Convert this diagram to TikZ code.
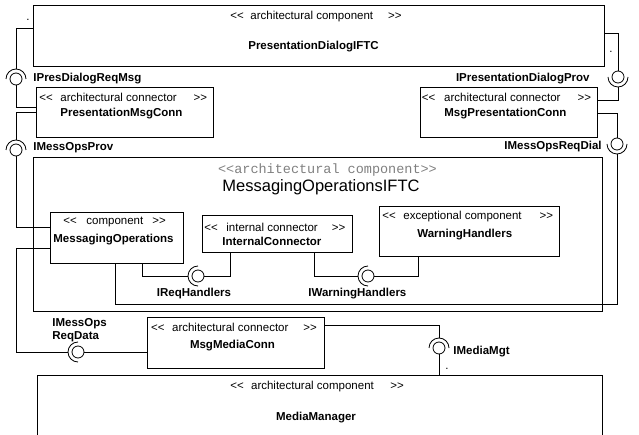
\documentclass[tikz,border=0pt]{standalone}
\usepackage{fontspec}
\setmainfont{Liberation Sans}
\newfontfamily\umlmono{Liberation Mono}
\newcommand{\stlt}{<\kern0pt<}
\newcommand{\stgt}{>\kern0pt>}
\tikzset{
  box/.style={draw, anchor=north west, inner sep=0},
  ball/.style={circle, draw, minimum size=12pt, inner sep=0},
  stereo/.style={inner sep=0, font=\fontsize{11.5}{13.3}\selectfont},
  bname/.style={inner sep=0, font=\fontsize{11.5}{13.3}\selectfont\bfseries},
}
\begin{document}
\begin{tikzpicture}[x=1pt,y=-1pt,line width=0.8pt]
  \useasboundingbox (0,0) rectangle (639,435);
  % boxes
  \node[box, minimum width=571pt, minimum height=61pt] (pdialog) at (33,5) {};
  \node[box, minimum width=177pt, minimum height=50pt] (pmconn) at (36,87) {};
  \node[box, minimum width=177pt, minimum height=50pt] (mpconn) at (420,87) {};
  \node[box, minimum width=569pt, minimum height=154pt] (msgops) at (33,157) {};
  \node[box, minimum width=133pt, minimum height=51pt] (mops) at (50,212) {};
  \node[box, minimum width=150pt, minimum height=37pt] (iconn) at (202,215) {};
  \node[box, minimum width=180pt, minimum height=50pt] (warn) at (379,206) {};
  \node[box, minimum width=177pt, minimum height=51pt] (mmconn) at (147,317) {};
  \node[box, minimum width=565pt, minimum height=80pt] (media) at (37,375) {};
  % box texts
  \node[stereo, anchor=base west] (pdialogSt) at (230,19.5) {\stlt\hspace{6.6pt}architectural component\hspace{15pt}\stgt};
  \node[bname, anchor=base] (pdialogNm) at (313.5,50) {PresentationDialogIFTC};
  \node[stereo, anchor=base west] (pmconnSt) at (39,101.7) {\stlt\hspace{7.6pt}architectural connector\hspace{17pt}\stgt};
  \node[bname, anchor=base west] (pmconnNm) at (60,116.7) {PresentationMsgConn};
  \node[stereo, anchor=base west] (mpconnSt) at (421.5,101.7) {\stlt\hspace{8.9pt}architectural connector\hspace{17pt}\stgt};
  \node[bname, anchor=base west] (mpconnNm) at (444,116.7) {MsgPresentationConn};
  \node[inner sep=0, anchor=base, text=gray, font=\umlmono\fontsize{13.5}{15}\selectfont] (msgopsSt) at (327.5,173.3) {\stlt architectural component\stgt};
  \node[inner sep=0, anchor=base, font=\fontsize{16.5}{19}\selectfont] (msgopsNm) at (321,191.7) {MessagingOperationsIFTC};
  \node[stereo, anchor=base west] (mopsSt) at (63,225) {\stlt\hspace{9.6pt}component\hspace{9pt}\stgt};
  \node[bname, anchor=base west] (mopsNm) at (53,242.7) {MessagingOperations};
  \node[stereo, anchor=base west] (iconnSt) at (204,231.7) {\stlt\hspace{8.6pt}internal connector\hspace{14pt}\stgt};
  \node[bname, anchor=base west] (iconnNm) at (222,245.7) {InternalConnector};
  \node[stereo, anchor=base west] (warnSt) at (382,219.3) {\stlt\hspace{7.6pt}exceptional component\hspace{18pt}\stgt};
  \node[bname, anchor=base west] (warnNm) at (417,237.3) {WarningHandlers};
  \node[stereo, anchor=base west] (mmconnSt) at (150.7,331) {\stlt\hspace{7.6pt}architectural connector\hspace{15pt}\stgt};
  \node[bname, anchor=base] (mmconnNm) at (232.5,348.3) {MsgMediaConn};
  \node[stereo, anchor=base west] (mediaSt) at (230,389.3) {\stlt\hspace{7.3pt}architectural component\hspace{16.6pt}\stgt};
  \node[bname, anchor=base] (mediaNm) at (316,420.7) {MediaManager};
  % dots
  \node[stereo] (dotA) at (28,20) {.};
  \node[stereo] (dotC) at (611,52) {.};
  \node[stereo] (dotH) at (447,369) {.};
  % interface labels
  \node[bname, anchor=base west] (lA) at (33,81.7) {IPresDialogReqMsg};
  \node[bname, anchor=base west] (lB) at (33,150.7) {IMessOpsProv};
  \node[bname, anchor=base east] (lC) at (590,81.7) {IPresentationDialogProv};
  \node[bname, anchor=base east] (lD) at (602,150) {IMessOpsReqDial};
  \node[bname, anchor=base] (lE) at (194,296) {IReqHandlers};
  \node[bname, anchor=base west] (lF) at (308,296.7) {IWarningHandlers};
  \node[bname, anchor=base west] (lG1) at (52,326) {IMessOps};
  \node[bname, anchor=base west] (lG2) at (52,339.3) {ReqData};
  \node[bname, anchor=base west] (lH) at (453,354) {IMediaMgt};
  % balls and sockets
  \node[ball] (bA) at (16,79) {};
  \node[ball] (bB) at (16,150) {};
  \node[ball] (bC) at (618,77) {};
  \node[ball] (bD) at (617,144) {};
  \node[ball] (bE) at (198,276) {};
  \node[ball] (bF) at (368,276) {};
  \node[ball] (bG) at (78,352) {};
  \node[ball] (bH) at (439,348) {};
  \coordinate (sA) at (16,69);
  \coordinate (sB) at (16,140);
  \coordinate (sC) at (618,87);
  \coordinate (sD) at (617,154);
  \coordinate (sE) at (188,276);
  \coordinate (sF) at (358,276);
  \coordinate (sG) at (68,352);
  \coordinate (sH) at (439,338);
  \draw (bA.center) ++(-10,0) arc (180:360:10);
  \draw (bB.center) ++(-10,0) arc (180:360:10);
  \draw (bH.center) ++(-10,0) arc (180:360:10);
  \draw (bC.center) ++(-10,0) arc (180:0:10);
  \draw (bD.center) ++(-10,0) arc (180:0:10);
  \draw (bE.center) ++(0,10) arc (90:270:10);
  \draw (bF.center) ++(0,10) arc (90:270:10);
  \draw (bG.center) ++(0,10) arc (90:270:10);
  % connectors
  \draw (pdialog.north west) ++(0,23) -| (sA);
  \draw (pmconn.north west) ++(0,20) -| (bA.south);
  \draw (pmconn.north west) ++(0,25) -| (sB);
  \draw (mops.north west) ++(0,15) -| (bB.south);
  \draw (pdialog.north east) ++(0,28) -| (bC.north);
  \draw (mpconn.north east) ++(0,13) -| (sC);
  \draw (mpconn.north east) ++(0,26) -| (bD.north);
  \coordinate (dD) at (115,304);
  \draw (sD) |- (dD) -- (dD |- mops.south);
  \draw (mops.south west) ++(92,0) |- (sE);
  \draw (bE.east) -| ([xshift=28pt]iconn.south west);
  \draw (iconn.south east) ++(-38,0) |- (sF);
  \draw (bF.east) -| ([xshift=39pt]warn.south west);
  \draw (mops.south west) ++(0,-15) -- ++(-34,0) |- (sG);
  \draw (bG.east) -- (bG.east -| mmconn.west);
  \draw (mmconn.north east) ++(0,8) -| (sH);
  \draw (bH.south) -- (bH.south |- media.north);
\end{tikzpicture}
\end{document}
